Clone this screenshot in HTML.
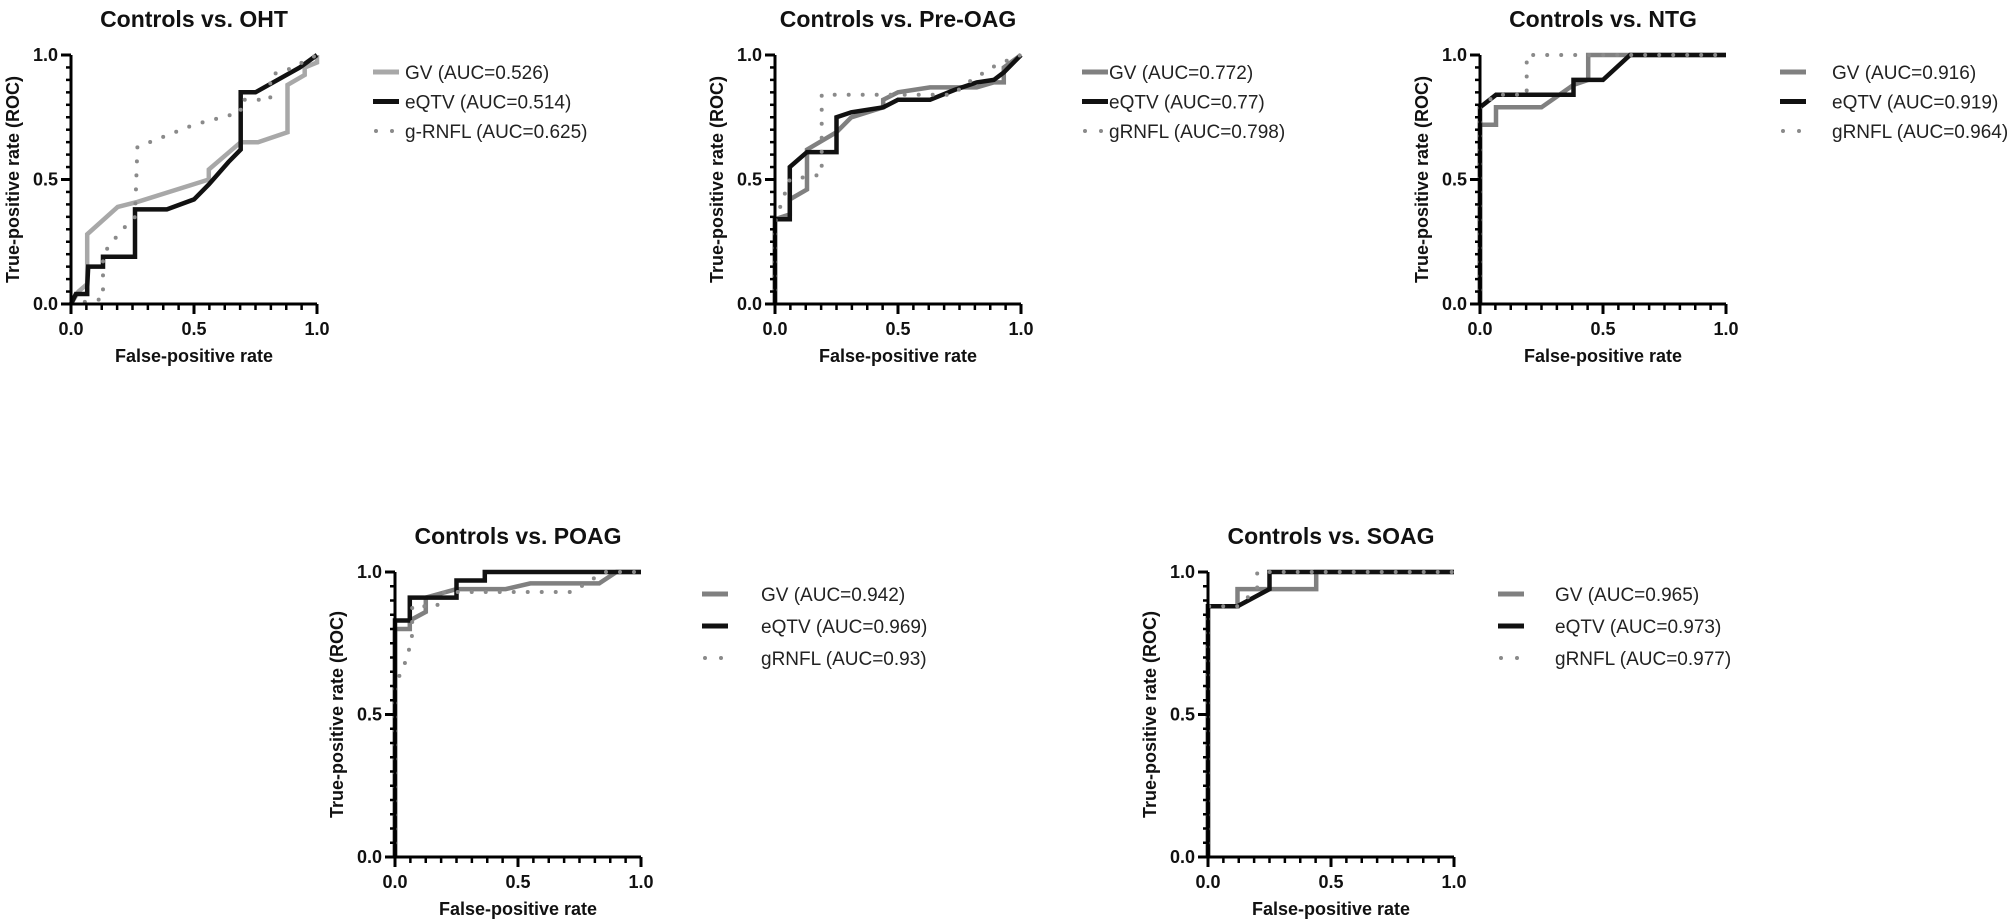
<!DOCTYPE html>
<html><head><meta charset="utf-8"><style>
html,body{margin:0;padding:0;background:#fff;}
svg{display:block;font-family:"Liberation Sans",Arial,sans-serif;}
</style></head><body>
<svg id="fig" width="2008" height="922" viewBox="0 0 2008 922"></svg>
<script>
const panelTitles=["Controls vs. OHT","Controls vs. Pre-OAG","Controls vs. NTG","Controls vs. POAG","Controls vs. SOAG"];
const seriesNames=["GV","eQTV","gRNFL"];
const legendLabels=[
 ["GV (AUC=0.526)","eQTV (AUC=0.514)","g-RNFL (AUC=0.625)"],
 ["GV (AUC=0.772)","eQTV (AUC=0.77)","gRNFL (AUC=0.798)"],
 ["GV (AUC=0.916)","eQTV (AUC=0.919)","gRNFL (AUC=0.964)"],
 ["GV (AUC=0.942)","eQTV (AUC=0.969)","gRNFL (AUC=0.93)"],
 ["GV (AUC=0.965)","eQTV (AUC=0.973)","gRNFL (AUC=0.977)"]];
const tickValues=[0,0.5,1];
const tickLabels=["0.0","0.5","1.0"];
// ROC points [fpr, tpr]
const ohtGV=[[0,0],[0.03,0.05],[0.066,0.08],[0.066,0.28],[0.19,0.39],[0.27,0.41],[0.56,0.5],[0.56,0.54],[0.69,0.65],[0.76,0.65],[0.88,0.69],[0.88,0.88],[0.95,0.92],[0.95,0.95],[1,0.97],[1,1]];
const ohtEQTV=[[0,0],[0.02,0.04],[0.066,0.04],[0.066,0.07],[0.07,0.15],[0.13,0.15],[0.13,0.19],[0.26,0.19],[0.26,0.38],[0.39,0.38],[0.5,0.42],[0.56,0.48],[0.64,0.57],[0.69,0.62],[0.69,0.85],[0.75,0.85],[0.93,0.95],[1,1]];
const ohtRNFL=[[0,0],[0.13,0.02],[0.13,0.2],[0.2,0.29],[0.26,0.35],[0.27,0.63],[0.5,0.72],[0.69,0.77],[0.69,0.82],[0.81,0.82],[0.81,0.92],[0.88,0.94],[1,1]];
const preGV=[[0,0],[0,0.34],[0.06,0.36],[0.06,0.42],[0.13,0.46],[0.13,0.62],[0.25,0.69],[0.31,0.75],[0.44,0.79],[0.44,0.82],[0.5,0.85],[0.63,0.87],[0.82,0.87],[0.89,0.89],[0.93,0.89],[0.93,0.95],[1,1]];
const preEQTV=[[0,0],[0,0.34],[0.06,0.34],[0.06,0.55],[0.13,0.61],[0.25,0.61],[0.25,0.75],[0.31,0.77],[0.44,0.79],[0.5,0.82],[0.63,0.82],[0.73,0.86],[0.82,0.89],[0.89,0.9],[0.93,0.93],[1,1]];
const preRNFL=[[0,0],[0,0.33],[0.06,0.5],[0.19,0.52],[0.19,0.84],[0.72,0.84],[0.8,0.9],[0.9,0.96],[1,1]];
const ntgGV=[[0,0],[0,0.72],[0.065,0.72],[0.065,0.79],[0.25,0.79],[0.38,0.88],[0.44,0.9],[0.44,1],[1,1]];
const ntgEQTV=[[0,0],[0,0.79],[0.065,0.84],[0.38,0.84],[0.38,0.9],[0.5,0.9],[0.61,1],[1,1]];
const ntgRNFL=[[0,0],[0,0.79],[0.065,0.84],[0.19,0.84],[0.19,1],[1,1]];
const poagGV=[[0,0],[0,0.8],[0.06,0.8],[0.06,0.83],[0.125,0.86],[0.125,0.91],[0.25,0.94],[0.45,0.94],[0.55,0.96],[0.83,0.96],[0.9,1],[1,1]];
const poagEQTV=[[0,0],[0,0.83],[0.06,0.83],[0.06,0.91],[0.25,0.91],[0.25,0.97],[0.365,0.97],[0.365,1],[1,1]];
const poagRNFL=[[0,0],[0,0.6],[0.05,0.7],[0.07,0.78],[0.07,0.88],[0.17,0.88],[0.2,0.93],[0.72,0.93],[0.85,1],[1,1]];
const soagGV=[[0,0],[0,0.88],[0.12,0.88],[0.12,0.94],[0.44,0.94],[0.44,1],[1,1]];
const soagEQTV=[[0,0],[0,0.88],[0.12,0.88],[0.25,0.94],[0.25,1],[1,1]];
const soagRNFL=[[0,0],[0,0.88],[0.12,0.88],[0.2,0.94],[0.2,1],[1,1]];

const panelData=[[ohtGV,ohtEQTV,ohtRNFL],[preGV,preEQTV,preRNFL],[ntgGV,ntgEQTV,ntgRNFL],[poagGV,poagEQTV,poagRNFL],[soagGV,soagEQTV,soagRNFL]];
const layout=[
 {x0:71,y0:304,H:249,legX:373,legY:72,gap:29.5,tx:32,gv:"#a8a8a8"},
 {x0:775,y0:304,H:249,legX:1082,legY:72,gap:29.5,tx:27,gv:"#808080"},
 {x0:1480,y0:304,H:249,legX:1780,legY:72,gap:29.5,tx:52,gv:"#808080"},
 {x0:395,y0:857,H:285,legX:702,legY:594,gap:32,tx:59,gv:"#808080"},
 {x0:1208,y0:857,H:285,legX:1498,legY:594,gap:32,tx:57,gv:"#808080"}];
const W=246;
const NS="http://www.w3.org/2000/svg";
const svg=document.getElementById("fig");
function mk(tag,attrs,parent,txt){const e=document.createElementNS(NS,tag);for(const k in attrs)e.setAttribute(k,attrs[k]);if(txt!=null)e.textContent=txt;(parent||svg).appendChild(e);return e;}

panelData.forEach((series,pi)=>{
 const L=layout[pi];
 const H=L.H;
 const g=mk("g",{});
 
 
 const sx=v=>L.x0+v*W, sy=v=>L.y0-v*H;
 const t=mk("text",{x:L.x0+W/2,y:L.y0-H-28,"text-anchor":"middle","font-size":"23","font-weight":"bold",fill:"#111"},g,panelTitles[pi]);
 
 
 const colors=[L.gv,"#111",null];
 series.forEach((pts,si)=>{
  const d=pts.map((p,i)=>(i?"L":"M")+sx(p[0]).toFixed(1)+" "+sy(p[1]).toFixed(1)).join(" ");
  let p;
  if(si===2) p=mk("path",{d:d,fill:"none",stroke:"#8a8a8a","stroke-width":"4","stroke-dasharray":"0 14","stroke-linecap":"round"},g);
  else p=mk("path",{d:d,fill:"none",stroke:colors[si],"stroke-width":"4.5","stroke-linejoin":"miter"},g);
  
  
 });
 const ax=mk("g",{stroke:"#000","stroke-width":"3"},g);
 
 
 mk("line",{x1:L.x0,y1:L.y0+1.5,x2:L.x0,y2:sy(1)},ax);
 mk("line",{x1:L.x0-1.5,y1:L.y0,x2:sx(1),y2:L.y0},ax);
 for(let i=0;i<=20;i++){const v=i/20;const major=(i%10===0);mk("line",{x1:L.x0-(major?10:5),y1:sy(v),x2:L.x0,y2:sy(v),"stroke-width":major?3:2.5},ax);}
 for(let i=0;i<=16;i++){const v=i/16;const major=(i%8===0);mk("line",{x1:sx(v),y1:L.y0,x2:sx(v),y2:L.y0+(major?10:6),"stroke-width":major?3:2.5},ax);}
 tickValues.forEach((v,i)=>{
  const a=mk("text",{x:L.x0-13,y:sy(v)+6,"text-anchor":"end","font-size":"18","font-weight":"bold",fill:"#111"},g,tickLabels[i]);
  
  
  const b=mk("text",{x:sx(v),y:L.y0+31,"text-anchor":"middle","font-size":"18","font-weight":"bold",fill:"#111"},g,tickLabels[i]);
  
  
 });
 const xt=mk("text",{x:L.x0+W/2,y:L.y0+58,"text-anchor":"middle","font-size":"18","font-weight":"bold",fill:"#111"},g,"False-positive rate");
 
 
 const cy=L.y0-H/2;
 const yt=mk("text",{x:L.x0-52,y:cy,"text-anchor":"middle","font-size":"18","font-weight":"bold",fill:"#111",transform:"rotate(-90 "+(L.x0-52)+" "+cy+")"},g,"True-positive rate (ROC)");
 
 
 legendLabels[pi].forEach((lab,si)=>{
  const ly=L.legY+si*L.gap;
  const le=mk("g",{},g);
  
  
  if(si===2){mk("circle",{cx:L.legX+3,cy:ly,r:2,fill:"#8a8a8a"},le);mk("circle",{cx:L.legX+19,cy:ly,r:2,fill:"#8a8a8a"},le);}
  else mk("line",{x1:L.legX,y1:ly,x2:L.legX+26,y2:ly,stroke:colors[si],"stroke-width":"5"},le);
  mk("text",{x:L.legX+L.tx,y:ly+7,"font-size":"19",fill:"#222"},le,lab);
 });
});
</script>
</body></html>
